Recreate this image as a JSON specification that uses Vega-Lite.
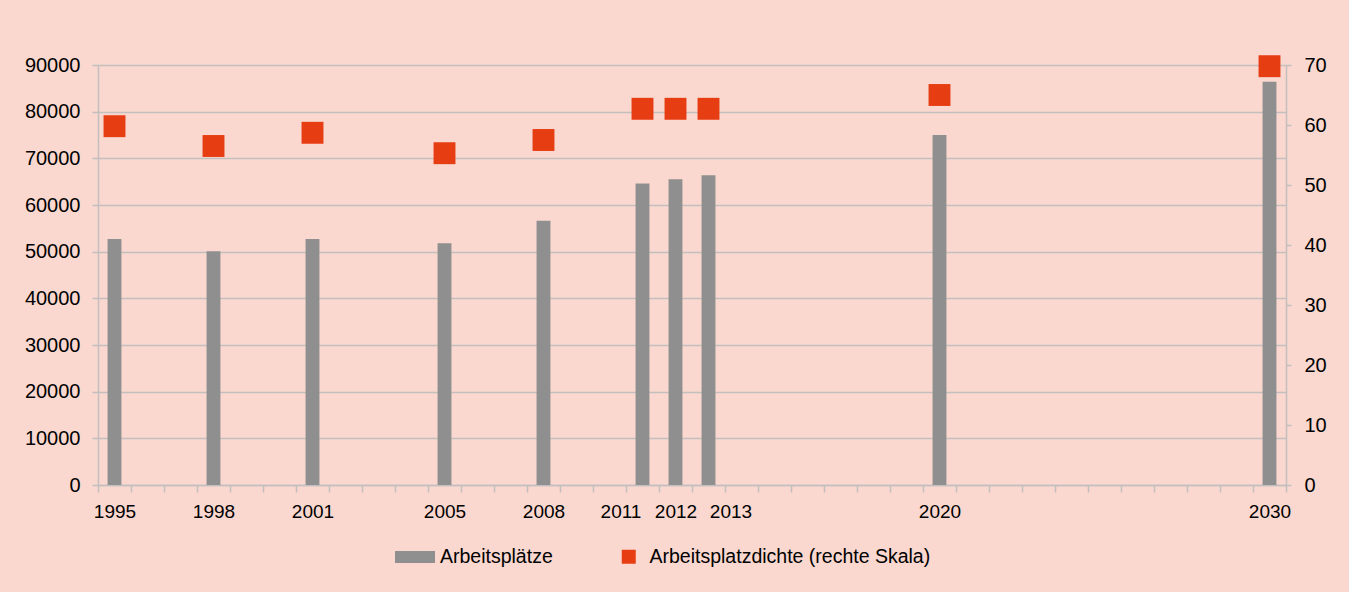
{
  "$schema": "https://vega.github.io/schema/vega-lite/v6.json",
  "width": 1188,
  "height": 420,
  "autosize": {"type": "none"},
  "padding": {"left": 98, "top": 65, "right": 63, "bottom": 107},
  "background": "#FAD8CF",
  "config": {
    "view": {"stroke": null},
    "font": "Liberation Sans",
    "axis": {
      "labelFont": "Liberation Sans",
      "labelFontSize": 19,
      "labelColor": "#000000",
      "domainColor": "#C2BFBE",
      "tickColor": "#C2BFBE",
      "gridColor": "#C2BFBE",
      "domainWidth": 1.5,
      "tickWidth": 1.5,
      "gridWidth": 1.5,
      "title": null
    },
    "legend": {"labelFont": "Liberation Sans", "labelFontSize": 19.5, "labelColor": "#000000", "labelLimit": 0}
  },
  "data": {
    "values": [
      {"Jahr": 1995, "Arbeitsplaetze": 52700, "Dichte": 59.8},
      {"Jahr": 1998, "Arbeitsplaetze": 50100, "Dichte": 56.5},
      {"Jahr": 2001, "Arbeitsplaetze": 52700, "Dichte": 58.7},
      {"Jahr": 2005, "Arbeitsplaetze": 51800, "Dichte": 55.3},
      {"Jahr": 2008, "Arbeitsplaetze": 56600, "Dichte": 57.5},
      {"Jahr": 2011, "Arbeitsplaetze": 64600, "Dichte": 62.7},
      {"Jahr": 2012, "Arbeitsplaetze": 65500, "Dichte": 62.7},
      {"Jahr": 2013, "Arbeitsplaetze": 66400, "Dichte": 62.7},
      {"Jahr": 2020, "Arbeitsplaetze": 75000, "Dichte": 65.0},
      {"Jahr": 2030, "Arbeitsplaetze": 86400, "Dichte": 69.8}
    ]
  },
  "encoding": {
    "x": {
      "field": "Jahr",
      "type": "ordinal",
      "scale": {
        "domain": [1995,1996,1997,1998,1999,2000,2001,2002,2003,2004,2005,2006,2007,2008,2009,2010,2011,2012,2013,2014,2015,2016,2017,2018,2019,2020,2021,2022,2023,2024,2025,2026,2027,2028,2029,2030],
        "paddingInner": 0,
        "paddingOuter": 0
      },
      "axis": {
        "labelAngle": 0,
        "tickBand": "extent",
        "tickSize": 7,
        "labelPadding": 10,
        "labelOverlap": false,
        "labelExpr": "indexof([1995,1998,2001,2005,2008,2011,2012,2013,2020,2030], datum.value) >= 0 ? datum.label : ''",
        "labelOffset": {"condition": [{"test": "datum.value == 2011", "value": -22}, {"test": "datum.value == 2013", "value": 22}], "value": 0}
      }
    }
  },
  "layer": [
    {
      "mark": {"type": "bar", "width": {"band": 0.42}},
      "encoding": {
        "y": {
          "field": "Arbeitsplaetze",
          "type": "quantitative",
          "scale": {"domain": [0, 90000], "nice": false},
          "axis": {
            "values": [0,10000,20000,30000,40000,50000,60000,70000,80000,90000],
            "grid": true,
            "tickSize": 6,
            "labelPadding": 12,
            "labelFontSize": 20,
            "format": "d"
          }
        },
        "color": {
          "datum": "Arbeitsplätze",
          "scale": {"range": ["#8F8F8F"]},
          "legend": {
            "orient": "none",
            "legendX": 297,
            "legendY": 472,
            "title": null,
            "symbolType": "M-1,-0.3H1V0.3H-1Z",
            "symbolSize": 1600,
            "symbolStrokeWidth": 0,
            "labelOffset": 5
          }
        }
      }
    },
    {
      "mark": {"type": "square", "size": 480, "opacity": 1},
      "encoding": {
        "y": {
          "field": "Dichte",
          "type": "quantitative",
          "scale": {"domain": [0, 70], "nice": false},
          "axis": {
            "orient": "right",
            "values": [0,10,20,30,40,50,60,70],
            "grid": false,
            "tickSize": 5,
            "labelPadding": 13,
            "labelFontSize": 20
          }
        },
        "color": {
          "datum": "Arbeitsplatzdichte (rechte Skala)",
          "scale": {"range": ["#E63D12"]},
          "legend": {
            "orient": "none",
            "legendX": 521,
            "legendY": 482,
            "title": null,
            "symbolType": "square",
            "symbolSize": 196,
            "symbolStrokeWidth": 0,
            "symbolOpacity": 1,
            "labelOffset": 11
          }
        }
      }
    }
  ],
  "resolve": {"scale": {"y": "independent", "color": "independent"}, "axis": {"y": "independent"}, "legend": {"color": "independent"}}
}
